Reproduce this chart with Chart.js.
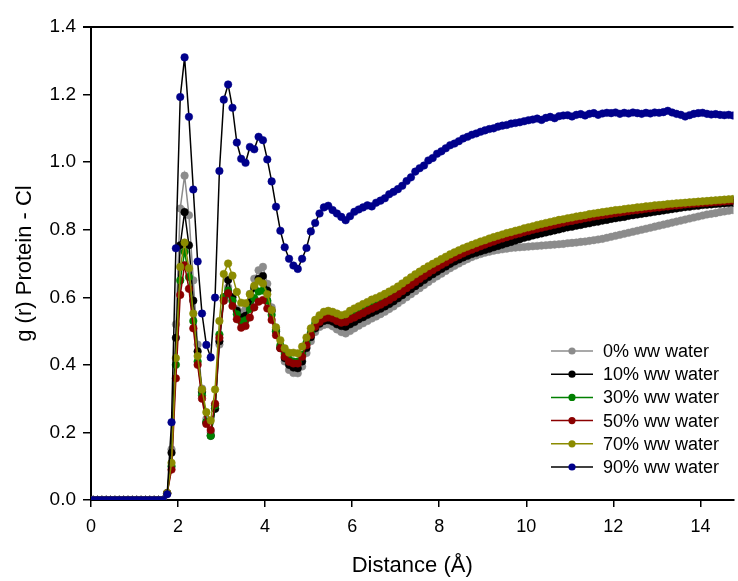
<!DOCTYPE html>
<html>
<head>
<meta charset="utf-8">
<script src="https://cdn.jsdelivr.net/npm/chart.js@4.4.1/dist/chart.umd.min.js"></script>
<style>
  html, body { margin: 0; padding: 0; background: #fff; }
  #wrap { width: 738px; height: 581px; }
</style>
</head>
<body>
<div id="wrap"><canvas id="gr-chart" width="738" height="581"></canvas></div>
<script>
// distance bins (Å)
const distance = [
  0.05, 0.15, 0.25, 0.35, 0.45, 0.55, 0.65, 0.75, 0.85, 0.95,
  1.05, 1.15, 1.25, 1.35, 1.45, 1.55, 1.65, 1.75, 1.85, 1.95,
  2.05, 2.15, 2.25, 2.35, 2.45, 2.55, 2.65, 2.75, 2.85, 2.95,
  3.05, 3.15, 3.25, 3.35, 3.45, 3.55, 3.65, 3.75, 3.85, 3.95,
  4.05, 4.15, 4.25, 4.35, 4.45, 4.55, 4.65, 4.75, 4.85, 4.95,
  5.05, 5.15, 5.25, 5.35, 5.45, 5.55, 5.65, 5.75, 5.85, 5.95,
  6.05, 6.15, 6.25, 6.35, 6.45, 6.55, 6.65, 6.75, 6.85, 6.95,
  7.05, 7.15, 7.25, 7.35, 7.45, 7.55, 7.65, 7.75, 7.85, 7.95,
  8.05, 8.15, 8.25, 8.35, 8.45, 8.55, 8.65, 8.75, 8.85, 8.95,
  9.05, 9.15, 9.25, 9.35, 9.45, 9.55, 9.65, 9.75, 9.85, 9.95,
  10.05, 10.15, 10.25, 10.35, 10.45, 10.55, 10.65, 10.75, 10.85, 10.95,
  11.05, 11.15, 11.25, 11.35, 11.45, 11.55, 11.65, 11.75, 11.85, 11.95,
  12.05, 12.15, 12.25, 12.35, 12.45, 12.55, 12.65, 12.75, 12.85, 12.95,
  13.05, 13.15, 13.25, 13.35, 13.45, 13.55, 13.65, 13.75, 13.85, 13.95,
  14.05, 14.15, 14.25, 14.35, 14.45, 14.55, 14.65, 14.75
];

const water0 = [
  0, 0, 0, 0, 0, 0, 0, 0, 0, 0, 0, 0, 0, 0, 0, 0, 0,
  0.02, 0.15, 0.52, 0.863, 0.960, 0.843, 0.65, 0.46, 0.33, 0.24, 0.20, 0.27, 0.46,
  0.59, 0.630, 0.590, 0.565, 0.555, 0.565, 0.610, 0.655, 0.680, 0.690,
  0.640, 0.570, 0.505, 0.450, 0.410, 0.385, 0.376, 0.375, 0.395, 0.435,
  0.470, 0.497, 0.512, 0.518, 0.520, 0.514, 0.505, 0.497, 0.493, 0.500, 0.508,
  0.516, 0.523, 0.530, 0.537, 0.543, 0.550, 0.557, 0.565, 0.573, 0.582,
  0.591, 0.600, 0.609, 0.618, 0.627, 0.636, 0.645, 0.654, 0.662, 0.670,
  0.678, 0.686, 0.693, 0.700, 0.707, 0.713, 0.719, 0.724, 0.728, 0.732,
  0.735, 0.738, 0.740, 0.742, 0.744, 0.746, 0.747, 0.748, 0.749, 0.750,
  0.751, 0.752, 0.753, 0.754, 0.755, 0.756, 0.757, 0.758, 0.760, 0.761,
  0.762, 0.764, 0.765, 0.767, 0.769, 0.771, 0.773, 0.776, 0.779, 0.782,
  0.785, 0.788, 0.791, 0.794, 0.797, 0.800, 0.803, 0.806, 0.809, 0.812,
  0.815, 0.818, 0.821, 0.824, 0.827, 0.830, 0.833, 0.836, 0.839, 0.842,
  0.845, 0.847, 0.849, 0.852, 0.854, 0.856, 0.858
];

const water10 = [
  0, 0, 0, 0, 0, 0, 0, 0, 0, 0, 0, 0, 0, 0, 0, 0, 0,
  0.02, 0.14, 0.48, 0.754, 0.852, 0.754, 0.59, 0.44, 0.32, 0.23, 0.19, 0.27, 0.47,
  0.60, 0.651, 0.600, 0.560, 0.540, 0.545, 0.585, 0.628, 0.655, 0.663,
  0.620, 0.560, 0.500, 0.450, 0.420, 0.400, 0.392, 0.390, 0.410, 0.450,
  0.482, 0.508, 0.522, 0.530, 0.532, 0.528, 0.520, 0.515, 0.513, 0.520, 0.527,
  0.535, 0.541, 0.548, 0.554, 0.560, 0.566, 0.573, 0.580, 0.588, 0.597,
  0.606, 0.615, 0.624, 0.633, 0.642, 0.651, 0.660, 0.668, 0.676, 0.684,
  0.691, 0.699, 0.706, 0.712, 0.718, 0.723, 0.728, 0.732, 0.736, 0.740,
  0.744, 0.748, 0.752, 0.756, 0.760, 0.764, 0.768, 0.772, 0.776, 0.779,
  0.783, 0.786, 0.789, 0.792, 0.795, 0.798, 0.801, 0.804, 0.807, 0.809,
  0.812, 0.814, 0.817, 0.819, 0.822, 0.824, 0.827, 0.829, 0.832, 0.834,
  0.836, 0.838, 0.841, 0.843, 0.845, 0.847, 0.849, 0.851, 0.853, 0.855,
  0.857, 0.859, 0.861, 0.863, 0.865, 0.867, 0.868, 0.870, 0.871, 0.873,
  0.874, 0.875, 0.876, 0.877, 0.878, 0.879, 0.880
];

const water30 = [
  0, 0, 0, 0, 0, 0, 0, 0, 0, 0, 0, 0, 0, 0, 0, 0, 0,
  0.02, 0.10, 0.40, 0.65, 0.735, 0.66, 0.53, 0.41, 0.31, 0.23, 0.19, 0.28, 0.49,
  0.60, 0.620, 0.590, 0.550, 0.528, 0.532, 0.565, 0.598, 0.617, 0.620,
  0.590, 0.548, 0.498, 0.458, 0.432, 0.416, 0.410, 0.410, 0.430, 0.465,
  0.495, 0.522, 0.537, 0.547, 0.550, 0.546, 0.540, 0.535, 0.537, 0.545, 0.551,
  0.555, 0.561, 0.568, 0.574, 0.580, 0.586, 0.593, 0.600, 0.608, 0.617,
  0.626, 0.635, 0.644, 0.653, 0.662, 0.670, 0.679, 0.687, 0.695, 0.703,
  0.710, 0.717, 0.724, 0.730, 0.736, 0.742, 0.747, 0.752, 0.757, 0.762,
  0.766, 0.771, 0.775, 0.779, 0.783, 0.787, 0.791, 0.794, 0.798, 0.801,
  0.805, 0.808, 0.811, 0.814, 0.817, 0.820, 0.822, 0.825, 0.828, 0.830,
  0.833, 0.835, 0.838, 0.840, 0.843, 0.845, 0.847, 0.849, 0.851, 0.853,
  0.855, 0.857, 0.859, 0.861, 0.862, 0.864, 0.866, 0.867, 0.869, 0.870,
  0.872, 0.873, 0.874, 0.875, 0.876, 0.878, 0.879, 0.880, 0.881, 0.882,
  0.883, 0.884, 0.885, 0.886, 0.887, 0.888, 0.889
];

const water50 = [
  0, 0, 0, 0, 0, 0, 0, 0, 0, 0, 0, 0, 0, 0, 0, 0, 0,
  0.02, 0.09, 0.36, 0.607, 0.695, 0.625, 0.508, 0.400, 0.300, 0.225, 0.207, 0.285, 0.480,
  0.590, 0.612, 0.574, 0.535, 0.510, 0.515, 0.540, 0.570, 0.587, 0.592,
  0.567, 0.533, 0.488, 0.449, 0.424, 0.409, 0.404, 0.404, 0.424, 0.458,
  0.488, 0.513, 0.527, 0.537, 0.540, 0.537, 0.530, 0.525, 0.527, 0.535, 0.540,
  0.547, 0.553, 0.560, 0.566, 0.572, 0.578, 0.585, 0.592, 0.600, 0.609,
  0.618, 0.627, 0.636, 0.645, 0.654, 0.663, 0.672, 0.680, 0.688, 0.696,
  0.703, 0.711, 0.718, 0.724, 0.730, 0.736, 0.741, 0.746, 0.751, 0.756,
  0.761, 0.765, 0.770, 0.774, 0.778, 0.782, 0.786, 0.789, 0.793, 0.796,
  0.800, 0.803, 0.806, 0.809, 0.812, 0.815, 0.818, 0.821, 0.824, 0.826,
  0.829, 0.831, 0.834, 0.836, 0.839, 0.841, 0.843, 0.845, 0.847, 0.849,
  0.851, 0.853, 0.855, 0.857, 0.858, 0.860, 0.862, 0.863, 0.865, 0.866,
  0.868, 0.869, 0.871, 0.872, 0.873, 0.875, 0.876, 0.877, 0.878, 0.879,
  0.880, 0.881, 0.882, 0.883, 0.884, 0.885, 0.886
];

const water70 = [
  0, 0, 0, 0, 0, 0, 0, 0, 0, 0, 0, 0, 0, 0, 0, 0, 0,
  0.02, 0.11, 0.42, 0.69, 0.762, 0.686, 0.552, 0.426, 0.327, 0.260, 0.235, 0.327, 0.530,
  0.669, 0.700, 0.664, 0.616, 0.584, 0.582, 0.609, 0.634, 0.648, 0.641,
  0.609, 0.562, 0.511, 0.473, 0.449, 0.436, 0.436, 0.434, 0.454, 0.481,
  0.508, 0.533, 0.547, 0.557, 0.560, 0.557, 0.552, 0.547, 0.550, 0.560, 0.567,
  0.573, 0.580, 0.586, 0.593, 0.598, 0.604, 0.610, 0.617, 0.624, 0.632,
  0.641, 0.650, 0.659, 0.668, 0.676, 0.684, 0.692, 0.699, 0.706, 0.713,
  0.720, 0.727, 0.733, 0.739, 0.745, 0.750, 0.755, 0.760, 0.765, 0.769,
  0.774, 0.778, 0.782, 0.786, 0.790, 0.793, 0.797, 0.800, 0.804, 0.807,
  0.810, 0.814, 0.817, 0.820, 0.823, 0.826, 0.829, 0.831, 0.834, 0.836,
  0.839, 0.841, 0.843, 0.846, 0.848, 0.850, 0.852, 0.854, 0.856, 0.858,
  0.859, 0.861, 0.863, 0.864, 0.866, 0.867, 0.869, 0.870, 0.872, 0.873,
  0.874, 0.876, 0.877, 0.878, 0.879, 0.880, 0.881, 0.882, 0.883, 0.884,
  0.885, 0.886, 0.887, 0.888, 0.889, 0.890, 0.891
];

const water90 = [
  0, 0, 0, 0, 0, 0, 0, 0, 0, 0, 0, 0, 0, 0, 0, 0, 0,
  0.017, 0.23, 0.745, 1.193, 1.310, 1.134, 0.919, 0.706, 0.552, 0.459, 0.422, 0.599, 0.974,
  1.185, 1.230, 1.161, 1.058, 1.010, 0.998, 1.045, 1.038, 1.075, 1.065,
  1.008, 0.943, 0.868, 0.797, 0.748, 0.714, 0.694, 0.684, 0.714, 0.746,
  0.795, 0.820, 0.848, 0.866, 0.871, 0.858, 0.848, 0.838, 0.828, 0.840, 0.853,
  0.860, 0.866, 0.872, 0.869, 0.880, 0.886, 0.893, 0.905, 0.912, 0.920,
  0.930, 0.944, 0.955, 0.972, 0.982, 0.990, 1.005, 1.012, 1.025, 1.032,
  1.041, 1.050, 1.055, 1.062, 1.070, 1.075, 1.081, 1.085, 1.090, 1.094,
  1.098, 1.100, 1.105, 1.108, 1.110, 1.114, 1.116, 1.118, 1.121, 1.124,
  1.126, 1.129, 1.125, 1.131, 1.134, 1.130, 1.136, 1.138, 1.139, 1.135,
  1.140, 1.142, 1.138, 1.143, 1.145, 1.140, 1.144, 1.146, 1.145, 1.147,
  1.143, 1.146, 1.144, 1.147, 1.145, 1.143, 1.146, 1.144, 1.147, 1.146,
  1.148, 1.152, 1.147, 1.143, 1.140, 1.135, 1.139, 1.143, 1.145, 1.146,
  1.143, 1.141, 1.142, 1.140, 1.139, 1.140, 1.138
];

const seriesLabels = ['0% ww water', '10% ww water', '30% ww water', '50% ww water', '70% ww water', '90% ww water'];
const seriesValues = [water0, water10, water30, water50, water70, water90];
const lineColors = ['#8c8c8c', '#000000', '#008000', '#8b0000', '#8b8b00', '#000000'];
const markerColors = ['#8c8c8c', '#000000', '#008000', '#8b0000', '#8b8b00', '#00008b'];
const xTicks = [0, 2, 4, 6, 8, 10, 12, 14];
const yTicks = [0, 0.2, 0.4, 0.6, 0.8, 1.0, 1.2, 1.4];

const FONT = '"Liberation Sans", Arial, sans-serif';

// top frame line and the legend inside the plot
const framePlugin = {
  id: 'frame',
  afterDraw(chart) {
    const { ctx, chartArea } = chart;
    ctx.save();
    ctx.strokeStyle = '#000';
    ctx.lineWidth = 2;
    ctx.beginPath();
    ctx.moveTo(chartArea.left - 8, chartArea.top);
    ctx.lineTo(chartArea.right, chartArea.top);
    ctx.stroke();

    ctx.font = '18px ' + FONT;
    ctx.textBaseline = 'middle';
    ctx.textAlign = 'left';
    seriesLabels.forEach((label, i) => {
      const y = 351 + i * 23.2;
      ctx.strokeStyle = lineColors[i];
      ctx.lineWidth = 1.5;
      ctx.beginPath();
      ctx.moveTo(551, y);
      ctx.lineTo(593, y);
      ctx.stroke();
      ctx.fillStyle = markerColors[i];
      ctx.beginPath();
      ctx.arc(572, y, 3.6, 0, Math.PI * 2);
      ctx.fill();
      ctx.fillStyle = '#000';
      ctx.fillText(label, 603, y + 1);
    });
    ctx.restore();
  }
};

const datasets = seriesLabels.map((label, i) => ({
  label: label,
  data: distance.map((d, k) => ({ x: d, y: seriesValues[i][k] })),
  borderColor: lineColors[i],
  borderWidth: 1.5,
  backgroundColor: markerColors[i],
  pointBackgroundColor: markerColors[i],
  pointBorderColor: markerColors[i],
  pointBorderWidth: 0.5,
  pointRadius: 3.8,
  order: seriesLabels.length - i
}));

new Chart(document.getElementById('gr-chart').getContext('2d'), {
  type: 'line',
  data: { datasets: datasets },
  plugins: [framePlugin],
  options: {
    responsive: false,
    animation: false,
    layout: { padding: { top: 27, right: 0, bottom: 0, left: 0 } },
    plugins: {
      legend: { display: false },
      tooltip: { enabled: false }
    },
    scales: {
      x: {
        type: 'linear',
        min: 0,
        max: 14.76,
        afterBuildTicks: scale => { scale.ticks = xTicks.map(v => ({ value: v })); },
        afterFit: scale => { scale.height = 81; },
        grid: { drawOnChartArea: false, drawTicks: true, tickLength: 7, color: '#000', lineWidth: 1.5 },
        border: { color: '#000', width: 2 },
        ticks: { color: '#000', font: { family: FONT, size: 18 }, padding: 9, maxRotation: 0 },
        title: {
          display: true,
          text: 'Distance (Å)',
          color: '#000',
          font: { family: FONT, size: 22 },
          padding: { top: 0, bottom: 2 }
        }
      },
      y: {
        min: 0,
        max: 1.4,
        afterBuildTicks: scale => { scale.ticks = yTicks.map(v => ({ value: v })); },
        afterFit: scale => { scale.width = 91; },
        grid: { drawOnChartArea: false, drawTicks: true, tickLength: 8, color: '#000', lineWidth: 1.5 },
        border: { color: '#000', width: 2 },
        ticks: { color: '#000', font: { family: FONT, size: 19 }, padding: 7, callback: v => v.toFixed(1) },
        title: {
          display: true,
          text: 'g (r) Protein - Cl',
          color: '#000',
          font: { family: FONT, size: 22 },
          padding: { top: 12, bottom: 0 }
        }
      }
    }
  }
});
</script>
</body>
</html>
